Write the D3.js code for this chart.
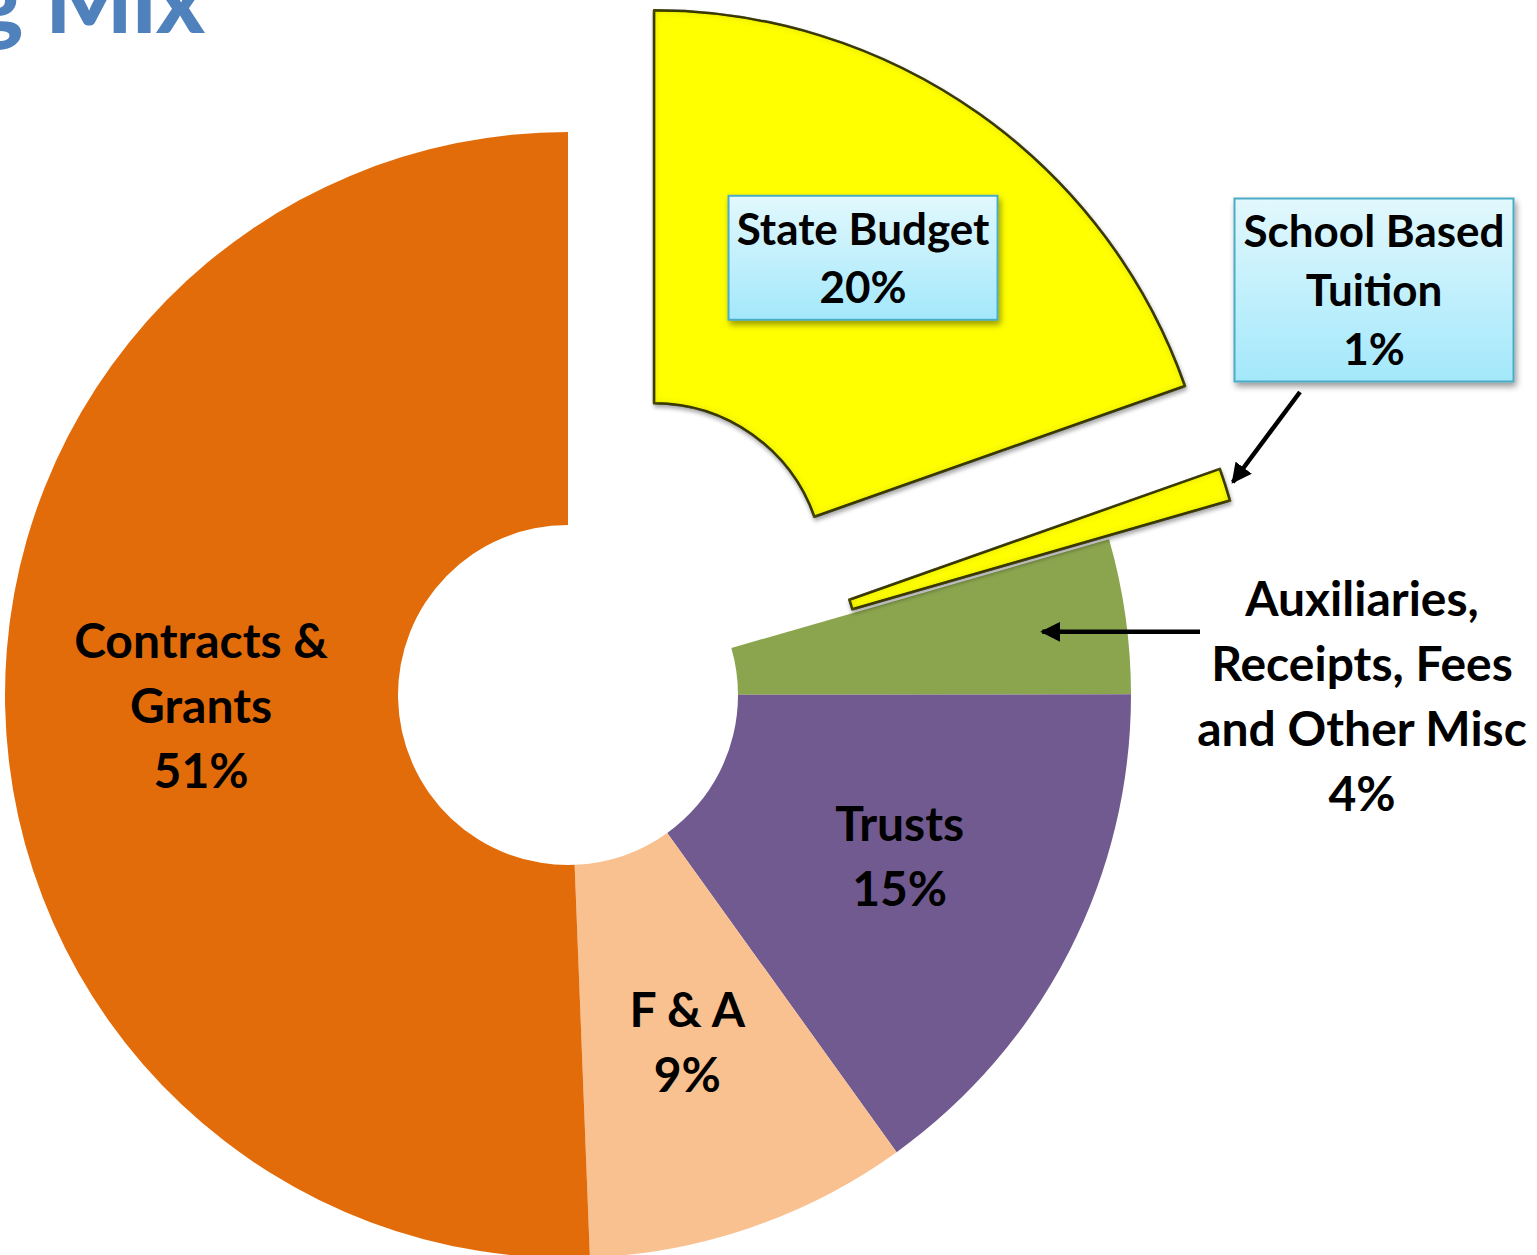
<!DOCTYPE html>
<html>
<head>
<meta charset="utf-8">
<script src="https://cdn.jsdelivr.net/npm/d3@7"></script>
<style>
  body { margin: 0; background: #fff; }
  svg { display: block; font-family: Lato, "Open Sans", sans-serif; font-weight: bold; }
</style>
</head>
<body>
<div id="chart"></div>
<script>
// chart data
var categories = ['State Budget', 'School Based Tuition', 'Auxiliaries, Receipts, Fees and Other Misc', 'Trusts', 'F & A', 'Contracts & Grants'];
var shares = [19.6, 0.94, 4.44, 15.1, 9.3, 50.62];
var labelLines = [['State Budget'], ['School Based', 'Tuition'], ['Auxiliaries,', 'Receipts, Fees', 'and Other Misc'], ['Trusts'], ['F & A'], ['Contracts &', 'Grants']];
var colors = ['#ffff00', '#ffff00', '#8ba54e', '#715a8f', '#f9c090', '#e36c0a'];
var titleText = 'g Mix';

var cfg = {
	w: 1537,
	h: 1255,
	cx: 568,
	cy: 695,
	rOuter: 563,
	rInner: 170,
	labelR: 367
};
// exploded slices (pixels along mid angle)
var explode = { 0: 149, 1: 127 };
// small label nudges
var nudge = { 0: [-3, -16], 3: [5, -6], 5: [0, 4] };

var total = d3.sum(shares);
var fmtPct = d3.format('.0%');
var data = categories.map(function(c, i) {
	return { key: c, value: shares[i], lines: labelLines[i], color: colors[i], pct: fmtPct(shares[i] / total) };
});

var svg = d3.select('#chart').append('svg')
	.attr('width', cfg.w)
	.attr('height', cfg.h);

var defs = svg.append('defs');

// bevel look for the yellow slices
var bevel = defs.append('filter').attr('id', 'bevel')
	.attr('x', '-10%').attr('y', '-10%').attr('width', '120%').attr('height', '120%');
bevel.append('feGaussianBlur').attr('in', 'SourceAlpha').attr('stdDeviation', 4).attr('result', 'blur');
bevel.append('feComposite').attr('in', 'SourceAlpha').attr('in2', 'blur')
	.attr('operator', 'arithmetic').attr('k2', 1).attr('k3', -1).attr('result', 'edge');
bevel.append('feFlood').attr('flood-color', '#7a7a00').attr('flood-opacity', 0.55).attr('result', 'shade');
bevel.append('feComposite').attr('in', 'shade').attr('in2', 'edge').attr('operator', 'in').attr('result', 'inner');
bevel.append('feGaussianBlur').attr('in', 'SourceAlpha').attr('stdDeviation', 2).attr('result', 'sblur');
bevel.append('feOffset').attr('in', 'sblur').attr('dx', 1).attr('dy', 3).attr('result', 'soff');
bevel.append('feComponentTransfer').attr('in', 'soff').attr('result', 'drop')
	.append('feFuncA').attr('type', 'linear').attr('slope', 0.35);
var bm = bevel.append('feMerge');
bm.append('feMergeNode').attr('in', 'drop');
bm.append('feMergeNode').attr('in', 'SourceGraphic');
bm.append('feMergeNode').attr('in', 'inner');

// box shadow
var shadow = defs.append('filter').attr('id', 'boxShadow')
	.attr('x', '-10%').attr('y', '-10%').attr('width', '125%').attr('height', '130%');
shadow.append('feGaussianBlur').attr('in', 'SourceAlpha').attr('stdDeviation', 3).attr('result', 'b');
shadow.append('feOffset').attr('in', 'b').attr('dx', 2).attr('dy', 4).attr('result', 'o');
shadow.append('feComponentTransfer').attr('in', 'o').attr('result', 'os')
	.append('feFuncA').attr('type', 'linear').attr('slope', 0.4);
var sm = shadow.append('feMerge');
sm.append('feMergeNode').attr('in', 'os');
sm.append('feMergeNode').attr('in', 'SourceGraphic');

var grad = defs.append('linearGradient').attr('id', 'boxFill')
	.attr('x1', 0).attr('y1', 0).attr('x2', 0).attr('y2', 1);
grad.append('stop').attr('offset', '0%').attr('stop-color', '#e2f8fd');
grad.append('stop').attr('offset', '100%').attr('stop-color', '#a3e8fb');

defs.append('marker')
	.attr('id', 'arrow')
	.attr('viewBox', '0 0 10 10')
	.attr('refX', 9).attr('refY', 5)
	.attr('markerWidth', 4.5).attr('markerHeight', 4.5)
	.attr('markerUnits', 'strokeWidth')
	.attr('orient', 'auto')
	.append('path')
	.attr('d', 'M0,0 L10,5 L0,10 z')
	.attr('fill', '#000');

// title (cut off at the edge like the source)
svg.append('text')
	.attr('x', 205)
	.attr('y', 33)
	.attr('text-anchor', 'end')
	.style('font-size', '92px')
	.style('font-weight', 900)
	.attr('fill', '#4f81bd')
	.text(titleText);

var pie = d3.pie()
	.sort(null)
	.value(function(d) { return d.value; })
	.startAngle(0)
	.endAngle(2 * Math.PI);
var arc = d3.arc().innerRadius(cfg.rInner).outerRadius(cfg.rOuter);
var arcs = pie(data);

function mid(a) { return (a.startAngle + a.endAngle) / 2; }
function origin(a, i) {
	var off = explode[i] || 0;
	var m = mid(a);
	return [cfg.cx + off * Math.sin(m), cfg.cy - off * Math.cos(m)];
}
function polar(a, i, r) {
	var o = origin(a, i), m = mid(a);
	var n = nudge[i] || [0, 0];
	return [o[0] + r * Math.sin(m) + n[0], o[1] - r * Math.cos(m) + n[1]];
}

// flat slices first, exploded ones on top
var slices = svg.append('g').classed('slices', true);
slices.selectAll('.slice')
	.data(arcs.map(function(a, i) { return { a: a, i: i }; })
		.sort(function(p, q) { return (explode[p.i] ? 1 : 0) - (explode[q.i] ? 1 : 0); }))
	.enter()
	.append('path')
	.classed('slice', true)
	.attr('transform', function(d) { return 'translate(' + origin(d.a, d.i) + ')'; })
	.attr('d', function(d) { return arc(d.a); })
	.attr('fill', function(d) { return d.a.data.color; })
	.attr('stroke', function(d) { return explode[d.i] ? '#111' : 'none'; })
	.attr('stroke-width', 2.5)
	.attr('stroke-linejoin', 'round')
	.attr('filter', function(d) { return explode[d.i] ? 'url(#bevel)' : null; });

// label text helper
function writeLines(g, lines, x, y, fs, lh) {
	var n = lines.length;
	lines.forEach(function(t, k) {
		g.append('text')
			.attr('x', x)
			.attr('y', y + (k - (n - 1) / 2) * lh + 0.36 * fs)
			.attr('text-anchor', 'middle')
			.style('font-size', fs + 'px')
			.attr('fill', '#000')
			.text(t);
	});
}

var labels = svg.append('g').classed('labels', true);

// labels inside slices
[3, 4, 5].forEach(function(i) {
	var p = polar(arcs[i], i, cfg.labelR);
	writeLines(labels, data[i].lines.concat([data[i].pct]), p[0], p[1], 48, 65);
});

// State Budget boxed label
(function() {
	var i = 0;
	var p = polar(arcs[i], i, cfg.labelR);
	var x = p[0], y = p[1];
	labels.append('rect')
		.attr('x', x - 134.5).attr('y', y - 62)
		.attr('width', 269).attr('height', 124)
		.attr('fill', 'url(#boxFill)')
		.attr('stroke', '#4bacc6').attr('stroke-width', 2)
		.attr('filter', 'url(#boxShadow)');
	writeLines(labels, data[i].lines.concat([data[i].pct]), x, y, 44, 58);
})();

// School Based Tuition boxed label with arrow
(function() {
	var i = 1;
	var x = 1374, y = 290;
	labels.append('rect')
		.attr('x', x - 139.5).attr('y', y - 91.5)
		.attr('width', 279).attr('height', 183)
		.attr('fill', 'url(#boxFill)')
		.attr('stroke', '#4bacc6').attr('stroke-width', 2)
		.attr('filter', 'url(#boxShadow)');
	writeLines(labels, data[i].lines.concat([data[i].pct]), x, y, 44, 59);
	var tip = polar(arcs[i], i, 571);
	labels.append('line')
		.attr('x1', 1300).attr('y1', 392)
		.attr('x2', tip[0]).attr('y2', tip[1])
		.attr('stroke', '#000').attr('stroke-width', 4.5)
		.attr('marker-end', 'url(#arrow)');
})();

// Auxiliaries label outside with arrow
(function() {
	var i = 2;
	writeLines(labels, data[i].lines.concat([data[i].pct]), 1362, 696, 48, 65);
	var tip = polar(arcs[i], i, 479);
	labels.append('line')
		.attr('x1', 1200).attr('y1', tip[1] + 4)
		.attr('x2', tip[0]).attr('y2', tip[1] + 4)
		.attr('stroke', '#000').attr('stroke-width', 4.5)
		.attr('marker-end', 'url(#arrow)');
})();
</script>
</body>
</html>
